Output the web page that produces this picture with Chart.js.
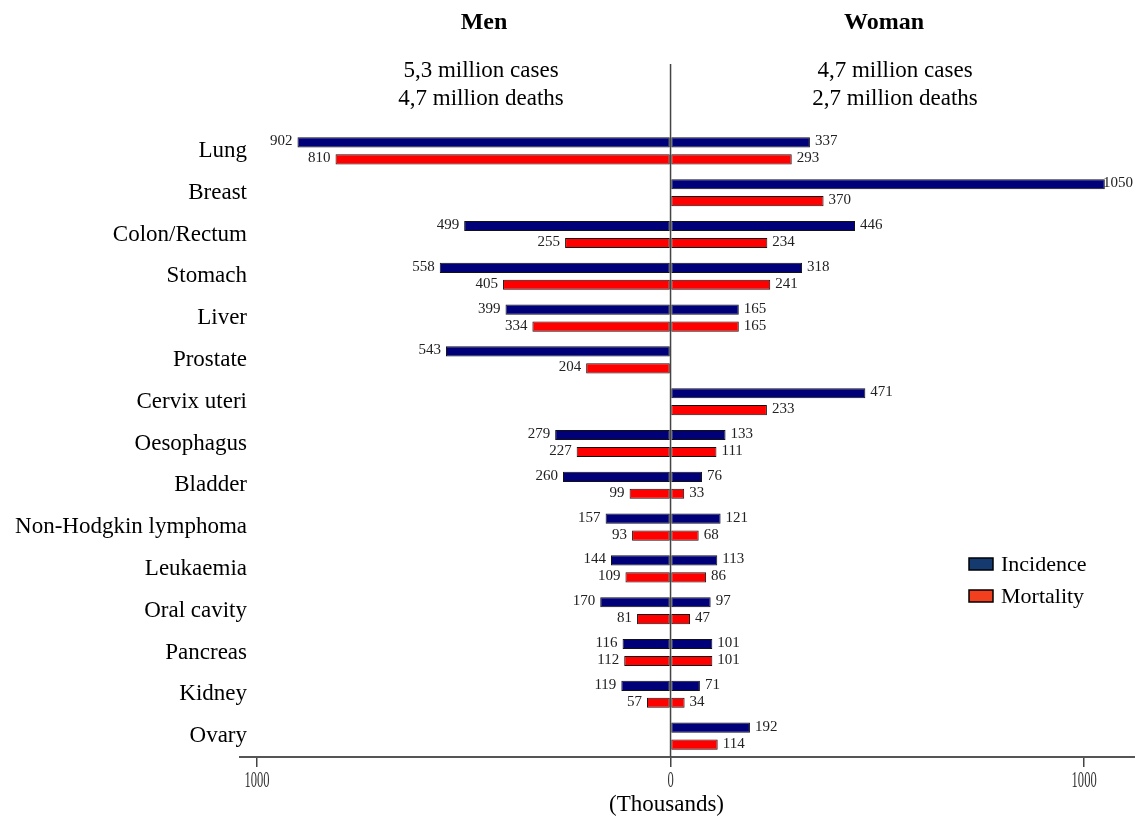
<!DOCTYPE html>
<html>
<head>
<meta charset="utf-8">
<style>
html, body { margin: 0; padding: 0; background: #fff; }
#wrap { width: 1135px; height: 817px; }
</style>
<script src="https://cdn.jsdelivr.net/npm/chart.js@4.4.0/dist/chart.umd.min.js"></script>
</head>
<body>
<div id="wrap"><canvas id="chart" width="1135" height="817"></canvas></div>
<script>
const categories = ['Lung', 'Breast', 'Colon/Rectum', 'Stomach', 'Liver', 'Prostate', 'Cervix uteri',
    'Oesophagus', 'Bladder', 'Non-Hodgkin lymphoma', 'Leukaemia', 'Oral cavity', 'Pancreas', 'Kidney', 'Ovary'];
const menIncidence   = [902, null, 499, 558, 399, 543, null, 279, 260, 157, 144, 170, 116, 119, null];
const menMortality   = [810, null, 255, 405, 334, 204, null, 227, 99, 93, 109, 81, 112, 57, null];
const womenIncidence = [337, 1050, 446, 318, 165, null, 471, 133, 76, 121, 113, 97, 101, 71, 192];
const womenMortality = [293, 370, 234, 241, 165, null, 233, 111, 33, 68, 86, 47, 101, 34, 114];
const xTicks = [-1000, 0, 1000];

const SERIF = "'Liberation Serif', 'Times New Roman', serif";
const NAVY = '#000078';
const RED = '#ff0000';

const neg = arr => arr.map(v => v == null ? null : -v);

// titles, category + value labels, legend, zero line, narrow tick labels
const overlay = {
    id: 'overlay',
    afterDatasetsDraw(chart) {
        const ctx = chart.ctx;
        const xs = chart.scales.x;
        const ys = chart.scales.y;
        const x0 = xs.getPixelForValue(0);
        ctx.save();
        ctx.strokeStyle = '#444';
        ctx.lineWidth = 1.5;
        ctx.beginPath();
        ctx.moveTo(x0, 64);
        ctx.lineTo(x0, chart.chartArea.bottom);
        ctx.stroke();

        // category labels
        ctx.font = '23px ' + SERIF;
        ctx.fillStyle = '#000';
        ctx.textAlign = 'right';
        ctx.textBaseline = 'middle';
        categories.forEach((c, i) => ctx.fillText(c, 247, ys.getPixelForValue(i)));

        // value labels
        ctx.font = '15px ' + SERIF;
        ctx.fillStyle = '#222';
        chart.data.datasets.forEach((ds, i) => {
            const meta = chart.getDatasetMeta(i);
            meta.data.forEach((el, j) => {
                const v = ds.data[j];
                if (v == null) return;
                const txt = String(Math.abs(v));
                if (v < 0) {
                    ctx.textAlign = 'right';
                    ctx.fillText(txt, el.x - 5, el.y - 1);
                } else {
                    ctx.textAlign = 'left';
                    const w = ctx.measureText(txt).width;
                    ctx.fillText(txt, Math.min(el.x + 5, chart.width - w - 2), el.y - 1);
                }
            });
        });
        ctx.restore();
    },
    afterDraw(chart) {
        const ctx = chart.ctx;
        const xs = chart.scales.x;
        const x0 = xs.getPixelForValue(0);
        ctx.save();
        ctx.fillStyle = '#000';
        ctx.textAlign = 'center';
        ctx.textBaseline = 'middle';
        ctx.font = 'bold 24px ' + SERIF;
        ctx.fillText('Men', 484, 23);
        ctx.fillText('Woman', 884, 23);
        ctx.font = '23px ' + SERIF;
        ctx.fillText('5,3 million cases', 481, 71);
        ctx.fillText('4,7 million deaths', 481, 99);
        ctx.fillText('4,7 million cases', 895, 71);
        ctx.fillText('2,7 million deaths', 895, 99);

        // x axis tick labels (narrow)
        ctx.font = '19px ' + SERIF;
        ctx.fillStyle = '#333';
        xTicks.forEach(v => {
            ctx.save();
            ctx.translate(xs.getPixelForValue(v), 781);
            ctx.scale(0.66, 1.25);
            ctx.fillText(String(Math.abs(v)), 0, 0);
            ctx.restore();
        });
        ctx.fillStyle = '#000';
        ctx.font = '23px ' + SERIF;
        ctx.fillText('(Thousands)', x0 - 4, 805);

        // legend
        const items = [
            { label: chart.data.datasets[2].label, color: '#143a70', y: 564 },
            { label: chart.data.datasets[3].label, color: '#f2401e', y: 596 }
        ];
        ctx.textAlign = 'left';
        ctx.font = '22px ' + SERIF;
        items.forEach(it => {
            ctx.fillStyle = it.color;
            ctx.fillRect(969, it.y - 6, 24, 12);
            ctx.strokeStyle = '#000';
            ctx.lineWidth = 1.5;
            ctx.strokeRect(969, it.y - 6, 24, 12);
            ctx.fillStyle = '#000';
            ctx.fillText(it.label, 1001, it.y + 1);
        });
        ctx.restore();
    }
};

const ctx = document.getElementById('chart').getContext('2d');
new Chart(ctx, {
    type: 'bar',
    data: {
        labels: categories,
        datasets: [
            { label: 'Incidence', stack: 'inc', data: neg(menIncidence), backgroundColor: NAVY },
            { label: 'Mortality', stack: 'mort', data: neg(menMortality), backgroundColor: RED },
            { label: 'Incidence', stack: 'inc', data: womenIncidence, backgroundColor: NAVY },
            { label: 'Mortality', stack: 'mort', data: womenMortality, backgroundColor: RED }
        ]
    },
    options: {
        indexAxis: 'y',
        responsive: false,
        animation: false,
        layout: { padding: { top: 130, left: 0, right: 0, bottom: 0 } },
        datasets: {
            bar: {
                barPercentage: 0.6,
                categoryPercentage: 0.81,
                borderWidth: 1,
                borderColor: '#111',
                borderSkipped: false
            }
        },
        plugins: { legend: { display: false }, tooltip: { enabled: false } },
        scales: {
            x: {
                stacked: true,
                min: -1041,
                max: 1123,
                afterBuildTicks: s => { s.ticks = xTicks.map(v => ({ value: v })); },
                afterFit: s => { s.height = 60; },
                ticks: { display: false },
                grid: { display: true, drawOnChartArea: false, drawTicks: true, tickLength: 10, color: '#444', lineWidth: 1.5 },
                border: { display: true, color: '#555', width: 2 }
            },
            y: {
                stacked: true,
                afterFit: s => { s.width = 240; },
                grid: { display: false },
                border: { display: false },
                ticks: { display: false }
            }
        }
    },
    plugins: [overlay]
});
</script>
</body>
</html>
